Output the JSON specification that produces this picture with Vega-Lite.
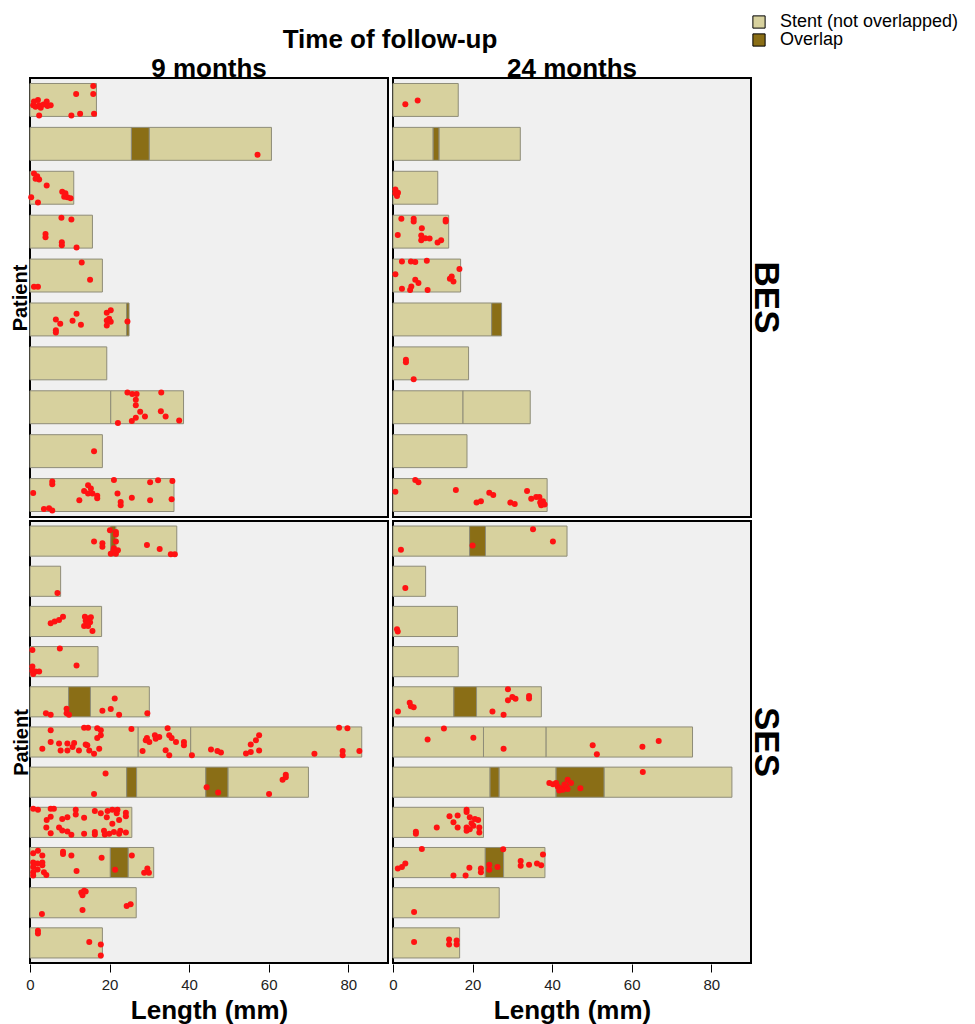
{
  "$schema": "https://vega.github.io/schema/vega-lite/v6.json",
  "background": "white",
  "padding": {"left": 10, "top": 13, "right": 5, "bottom": 2},
  "data": {"values": [
    {"g":"BES","t":"9 months","p":1,"k":"seg","s":0,"e":16.7,"part":"Stent (not overlapped)"},
    {"g":"BES","t":"9 months","p":2,"k":"seg","s":0,"e":25.5,"part":"Stent (not overlapped)"},
    {"g":"BES","t":"9 months","p":2,"k":"seg","s":25.5,"e":30.0,"part":"Overlap"},
    {"g":"BES","t":"9 months","p":2,"k":"seg","s":30.0,"e":60.7,"part":"Stent (not overlapped)"},
    {"g":"BES","t":"9 months","p":3,"k":"seg","s":0,"e":11.0,"part":"Stent (not overlapped)"},
    {"g":"BES","t":"9 months","p":4,"k":"seg","s":0,"e":15.7,"part":"Stent (not overlapped)"},
    {"g":"BES","t":"9 months","p":5,"k":"seg","s":0,"e":18.2,"part":"Stent (not overlapped)"},
    {"g":"BES","t":"9 months","p":6,"k":"seg","s":0,"e":24.3,"part":"Stent (not overlapped)"},
    {"g":"BES","t":"9 months","p":6,"k":"seg","s":24.3,"e":24.9,"part":"Overlap"},
    {"g":"BES","t":"9 months","p":7,"k":"seg","s":0,"e":19.3,"part":"Stent (not overlapped)"},
    {"g":"BES","t":"9 months","p":8,"k":"seg","s":0,"e":20.3,"part":"Stent (not overlapped)"},
    {"g":"BES","t":"9 months","p":8,"k":"seg","s":20.3,"e":38.6,"part":"Stent (not overlapped)"},
    {"g":"BES","t":"9 months","p":9,"k":"seg","s":0,"e":18.2,"part":"Stent (not overlapped)"},
    {"g":"BES","t":"9 months","p":10,"k":"seg","s":0,"e":36.2,"part":"Stent (not overlapped)"},

    {"g":"BES","t":"24 months","p":1,"k":"seg","s":0,"e":16.4,"part":"Stent (not overlapped)"},
    {"g":"BES","t":"24 months","p":2,"k":"seg","s":0,"e":10.1,"part":"Stent (not overlapped)"},
    {"g":"BES","t":"24 months","p":2,"k":"seg","s":10.1,"e":11.6,"part":"Overlap"},
    {"g":"BES","t":"24 months","p":2,"k":"seg","s":11.6,"e":32.0,"part":"Stent (not overlapped)"},
    {"g":"BES","t":"24 months","p":3,"k":"seg","s":0,"e":11.25,"part":"Stent (not overlapped)"},
    {"g":"BES","t":"24 months","p":4,"k":"seg","s":0,"e":14.0,"part":"Stent (not overlapped)"},
    {"g":"BES","t":"24 months","p":5,"k":"seg","s":0,"e":17.0,"part":"Stent (not overlapped)"},
    {"g":"BES","t":"24 months","p":6,"k":"seg","s":0,"e":24.8,"part":"Stent (not overlapped)"},
    {"g":"BES","t":"24 months","p":6,"k":"seg","s":24.8,"e":27.3,"part":"Overlap"},
    {"g":"BES","t":"24 months","p":7,"k":"seg","s":0,"e":19.0,"part":"Stent (not overlapped)"},
    {"g":"BES","t":"24 months","p":8,"k":"seg","s":0,"e":17.6,"part":"Stent (not overlapped)"},
    {"g":"BES","t":"24 months","p":8,"k":"seg","s":17.6,"e":34.5,"part":"Stent (not overlapped)"},
    {"g":"BES","t":"24 months","p":9,"k":"seg","s":0,"e":18.6,"part":"Stent (not overlapped)"},
    {"g":"BES","t":"24 months","p":10,"k":"seg","s":0,"e":38.75,"part":"Stent (not overlapped)"},

    {"g":"SES","t":"9 months","p":1,"k":"seg","s":0,"e":20.3,"part":"Stent (not overlapped)"},
    {"g":"SES","t":"9 months","p":1,"k":"seg","s":20.3,"e":21.6,"part":"Overlap"},
    {"g":"SES","t":"9 months","p":1,"k":"seg","s":21.6,"e":36.9,"part":"Stent (not overlapped)"},
    {"g":"SES","t":"9 months","p":2,"k":"seg","s":0,"e":7.7,"part":"Stent (not overlapped)"},
    {"g":"SES","t":"9 months","p":3,"k":"seg","s":0,"e":18.0,"part":"Stent (not overlapped)"},
    {"g":"SES","t":"9 months","p":4,"k":"seg","s":0,"e":17.1,"part":"Stent (not overlapped)"},
    {"g":"SES","t":"9 months","p":5,"k":"seg","s":0,"e":9.7,"part":"Stent (not overlapped)"},
    {"g":"SES","t":"9 months","p":5,"k":"seg","s":9.7,"e":15.2,"part":"Overlap"},
    {"g":"SES","t":"9 months","p":5,"k":"seg","s":15.2,"e":30.0,"part":"Stent (not overlapped)"},
    {"g":"SES","t":"9 months","p":6,"k":"seg","s":0,"e":27.2,"part":"Stent (not overlapped)"},
    {"g":"SES","t":"9 months","p":6,"k":"seg","s":27.2,"e":40.4,"part":"Stent (not overlapped)"},
    {"g":"SES","t":"9 months","p":6,"k":"seg","s":40.4,"e":83.4,"part":"Stent (not overlapped)"},
    {"g":"SES","t":"9 months","p":7,"k":"seg","s":0,"e":24.3,"part":"Stent (not overlapped)"},
    {"g":"SES","t":"9 months","p":7,"k":"seg","s":24.3,"e":26.8,"part":"Overlap"},
    {"g":"SES","t":"9 months","p":7,"k":"seg","s":26.8,"e":44.2,"part":"Stent (not overlapped)"},
    {"g":"SES","t":"9 months","p":7,"k":"seg","s":44.2,"e":49.8,"part":"Overlap"},
    {"g":"SES","t":"9 months","p":7,"k":"seg","s":49.8,"e":70.0,"part":"Stent (not overlapped)"},
    {"g":"SES","t":"9 months","p":8,"k":"seg","s":0,"e":25.6,"part":"Stent (not overlapped)"},
    {"g":"SES","t":"9 months","p":9,"k":"seg","s":0,"e":20.2,"part":"Stent (not overlapped)"},
    {"g":"SES","t":"9 months","p":9,"k":"seg","s":20.2,"e":24.7,"part":"Overlap"},
    {"g":"SES","t":"9 months","p":9,"k":"seg","s":24.7,"e":31.1,"part":"Stent (not overlapped)"},
    {"g":"SES","t":"9 months","p":10,"k":"seg","s":0,"e":26.7,"part":"Stent (not overlapped)"},
    {"g":"SES","t":"9 months","p":11,"k":"seg","s":0,"e":18.2,"part":"Stent (not overlapped)"},

    {"g":"SES","t":"24 months","p":1,"k":"seg","s":0,"e":19.25,"part":"Stent (not overlapped)"},
    {"g":"SES","t":"24 months","p":1,"k":"seg","s":19.25,"e":23.25,"part":"Overlap"},
    {"g":"SES","t":"24 months","p":1,"k":"seg","s":23.25,"e":43.75,"part":"Stent (not overlapped)"},
    {"g":"SES","t":"24 months","p":2,"k":"seg","s":0,"e":8.2,"part":"Stent (not overlapped)"},
    {"g":"SES","t":"24 months","p":3,"k":"seg","s":0,"e":16.2,"part":"Stent (not overlapped)"},
    {"g":"SES","t":"24 months","p":4,"k":"seg","s":0,"e":16.4,"part":"Stent (not overlapped)"},
    {"g":"SES","t":"24 months","p":5,"k":"seg","s":0,"e":15.3,"part":"Stent (not overlapped)"},
    {"g":"SES","t":"24 months","p":5,"k":"seg","s":15.3,"e":21.0,"part":"Overlap"},
    {"g":"SES","t":"24 months","p":5,"k":"seg","s":21.0,"e":37.3,"part":"Stent (not overlapped)"},
    {"g":"SES","t":"24 months","p":6,"k":"seg","s":0,"e":22.75,"part":"Stent (not overlapped)"},
    {"g":"SES","t":"24 months","p":6,"k":"seg","s":22.75,"e":38.5,"part":"Stent (not overlapped)"},
    {"g":"SES","t":"24 months","p":6,"k":"seg","s":38.5,"e":75.3,"part":"Stent (not overlapped)"},
    {"g":"SES","t":"24 months","p":7,"k":"seg","s":0,"e":24.4,"part":"Stent (not overlapped)"},
    {"g":"SES","t":"24 months","p":7,"k":"seg","s":24.4,"e":26.7,"part":"Overlap"},
    {"g":"SES","t":"24 months","p":7,"k":"seg","s":26.7,"e":41.0,"part":"Stent (not overlapped)"},
    {"g":"SES","t":"24 months","p":7,"k":"seg","s":41.0,"e":53.1,"part":"Overlap"},
    {"g":"SES","t":"24 months","p":7,"k":"seg","s":53.1,"e":85.2,"part":"Stent (not overlapped)"},
    {"g":"SES","t":"24 months","p":8,"k":"seg","s":0,"e":22.75,"part":"Stent (not overlapped)"},
    {"g":"SES","t":"24 months","p":9,"k":"seg","s":0,"e":23.2,"part":"Stent (not overlapped)"},
    {"g":"SES","t":"24 months","p":9,"k":"seg","s":23.2,"e":27.8,"part":"Overlap"},
    {"g":"SES","t":"24 months","p":9,"k":"seg","s":27.8,"e":38.2,"part":"Stent (not overlapped)"},
    {"g":"SES","t":"24 months","p":10,"k":"seg","s":0,"e":26.7,"part":"Stent (not overlapped)"},
    {"g":"SES","t":"24 months","p":11,"k":"seg","s":0,"e":16.75,"part":"Stent (not overlapped)"},

    {"g":"BES","t":"9 months","p":1,"k":"strut","x":15.9,"c":0.08},
    {"g":"BES","t":"9 months","p":1,"k":"strut","x":15.9,"c":0.32},
    {"g":"BES","t":"9 months","p":1,"k":"strut","x":16.1,"c":0.92},
    {"g":"BES","t":"9 months","p":1,"k":"strut","x":11.6,"c":0.32},
    {"g":"BES","t":"9 months","p":1,"k":"strut","x":12.6,"c":0.92},
    {"g":"BES","t":"9 months","p":1,"k":"strut","x":10.4,"c":0.97},
    {"g":"BES","t":"9 months","p":1,"k":"strut","x":2.3,"c":0.97},
    {"g":"BES","t":"9 months","p":1,"k":"strut","x":0.8,"c":0.66},
    {"g":"BES","t":"9 months","p":1,"k":"strut","x":1.4,"c":0.71},
    {"g":"BES","t":"9 months","p":1,"k":"strut","x":2.0,"c":0.5},
    {"g":"BES","t":"9 months","p":1,"k":"strut","x":2.3,"c":0.66},
    {"g":"BES","t":"9 months","p":1,"k":"strut","x":2.7,"c":0.74},
    {"g":"BES","t":"9 months","p":1,"k":"strut","x":3.4,"c":0.64},
    {"g":"BES","t":"9 months","p":1,"k":"strut","x":4.2,"c":0.55},
    {"g":"BES","t":"9 months","p":1,"k":"strut","x":4.4,"c":0.68},
    {"g":"BES","t":"9 months","p":1,"k":"strut","x":5.2,"c":0.66},
    {"g":"BES","t":"9 months","p":1,"k":"strut","x":1.0,"c":0.55},
    {"g":"BES","t":"9 months","p":2,"k":"strut","x":57.2,"c":0.83},
    {"g":"BES","t":"9 months","p":3,"k":"strut","x":1.0,"c":0.07},
    {"g":"BES","t":"9 months","p":3,"k":"strut","x":1.8,"c":0.15},
    {"g":"BES","t":"9 months","p":3,"k":"strut","x":2.3,"c":0.25},
    {"g":"BES","t":"9 months","p":3,"k":"strut","x":1.4,"c":0.23},
    {"g":"BES","t":"9 months","p":3,"k":"strut","x":4.2,"c":0.43},
    {"g":"BES","t":"9 months","p":3,"k":"strut","x":0.3,"c":0.79},
    {"g":"BES","t":"9 months","p":3,"k":"strut","x":2.0,"c":0.95},
    {"g":"BES","t":"9 months","p":3,"k":"strut","x":8.1,"c":0.62},
    {"g":"BES","t":"9 months","p":3,"k":"strut","x":8.6,"c":0.77},
    {"g":"BES","t":"9 months","p":3,"k":"strut","x":9.4,"c":0.79},
    {"g":"BES","t":"9 months","p":3,"k":"strut","x":10.2,"c":0.82},
    {"g":"BES","t":"9 months","p":3,"k":"strut","x":8.9,"c":0.67},
    {"g":"BES","t":"9 months","p":4,"k":"strut","x":7.9,"c":0.08},
    {"g":"BES","t":"9 months","p":4,"k":"strut","x":10.4,"c":0.13},
    {"g":"BES","t":"9 months","p":4,"k":"strut","x":3.9,"c":0.57},
    {"g":"BES","t":"9 months","p":4,"k":"strut","x":3.9,"c":0.67},
    {"g":"BES","t":"9 months","p":4,"k":"strut","x":8.0,"c":0.82},
    {"g":"BES","t":"9 months","p":4,"k":"strut","x":8.0,"c":0.91},
    {"g":"BES","t":"9 months","p":4,"k":"strut","x":11.7,"c":0.98},
    {"g":"BES","t":"9 months","p":5,"k":"strut","x":13.0,"c":0.1},
    {"g":"BES","t":"9 months","p":5,"k":"strut","x":15.1,"c":0.63},
    {"g":"BES","t":"9 months","p":5,"k":"strut","x":1.0,"c":0.84},
    {"g":"BES","t":"9 months","p":5,"k":"strut","x":2.0,"c":0.84},
    {"g":"BES","t":"9 months","p":6,"k":"strut","x":6.5,"c":0.5},
    {"g":"BES","t":"9 months","p":6,"k":"strut","x":7.6,"c":0.63},
    {"g":"BES","t":"9 months","p":6,"k":"strut","x":6.5,"c":0.83},
    {"g":"BES","t":"9 months","p":6,"k":"strut","x":6.5,"c":0.9},
    {"g":"BES","t":"9 months","p":6,"k":"strut","x":10.7,"c":0.54},
    {"g":"BES","t":"9 months","p":6,"k":"strut","x":11.7,"c":0.33},
    {"g":"BES","t":"9 months","p":6,"k":"strut","x":12.8,"c":0.66},
    {"g":"BES","t":"9 months","p":6,"k":"strut","x":19.3,"c":0.3},
    {"g":"BES","t":"9 months","p":6,"k":"strut","x":20.3,"c":0.22},
    {"g":"BES","t":"9 months","p":6,"k":"strut","x":19.3,"c":0.53},
    {"g":"BES","t":"9 months","p":6,"k":"strut","x":20.3,"c":0.57},
    {"g":"BES","t":"9 months","p":6,"k":"strut","x":19.3,"c":0.68},
    {"g":"BES","t":"9 months","p":6,"k":"strut","x":19.9,"c":0.48},
    {"g":"BES","t":"9 months","p":6,"k":"strut","x":24.5,"c":0.56},
    {"g":"BES","t":"9 months","p":8,"k":"strut","x":24.5,"c":0.05},
    {"g":"BES","t":"9 months","p":8,"k":"strut","x":25.7,"c":0.1},
    {"g":"BES","t":"9 months","p":8,"k":"strut","x":26.8,"c":0.1},
    {"g":"BES","t":"9 months","p":8,"k":"strut","x":26.6,"c":0.27},
    {"g":"BES","t":"9 months","p":8,"k":"strut","x":26.6,"c":0.44},
    {"g":"BES","t":"9 months","p":8,"k":"strut","x":27.7,"c":0.64},
    {"g":"BES","t":"9 months","p":8,"k":"strut","x":26.6,"c":0.82},
    {"g":"BES","t":"9 months","p":8,"k":"strut","x":25.6,"c":0.92},
    {"g":"BES","t":"9 months","p":8,"k":"strut","x":28.9,"c":0.78},
    {"g":"BES","t":"9 months","p":8,"k":"strut","x":22.1,"c":0.98},
    {"g":"BES","t":"9 months","p":8,"k":"strut","x":33.0,"c":0.05},
    {"g":"BES","t":"9 months","p":8,"k":"strut","x":32.9,"c":0.62},
    {"g":"BES","t":"9 months","p":8,"k":"strut","x":34.1,"c":0.78},
    {"g":"BES","t":"9 months","p":8,"k":"strut","x":37.5,"c":0.9},
    {"g":"BES","t":"9 months","p":9,"k":"strut","x":16.1,"c":0.5},
    {"g":"BES","t":"9 months","p":10,"k":"strut","x":0.8,"c":0.44},
    {"g":"BES","t":"9 months","p":10,"k":"strut","x":5.6,"c":0.09},
    {"g":"BES","t":"9 months","p":10,"k":"strut","x":5.6,"c":0.17},
    {"g":"BES","t":"9 months","p":10,"k":"strut","x":3.5,"c":0.92},
    {"g":"BES","t":"9 months","p":10,"k":"strut","x":4.8,"c":0.9},
    {"g":"BES","t":"9 months","p":10,"k":"strut","x":5.6,"c":0.97},
    {"g":"BES","t":"9 months","p":10,"k":"strut","x":12.4,"c":0.66},
    {"g":"BES","t":"9 months","p":10,"k":"strut","x":13.6,"c":0.38},
    {"g":"BES","t":"9 months","p":10,"k":"strut","x":14.6,"c":0.2},
    {"g":"BES","t":"9 months","p":10,"k":"strut","x":15.3,"c":0.3},
    {"g":"BES","t":"9 months","p":10,"k":"strut","x":14.6,"c":0.45},
    {"g":"BES","t":"9 months","p":10,"k":"strut","x":15.7,"c":0.45},
    {"g":"BES","t":"9 months","p":10,"k":"strut","x":16.9,"c":0.52},
    {"g":"BES","t":"9 months","p":10,"k":"strut","x":16.9,"c":0.6},
    {"g":"BES","t":"9 months","p":10,"k":"strut","x":21.1,"c":0.04},
    {"g":"BES","t":"9 months","p":10,"k":"strut","x":22.0,"c":0.45},
    {"g":"BES","t":"9 months","p":10,"k":"strut","x":22.8,"c":0.71},
    {"g":"BES","t":"9 months","p":10,"k":"strut","x":22.8,"c":0.81},
    {"g":"BES","t":"9 months","p":10,"k":"strut","x":25.6,"c":0.58},
    {"g":"BES","t":"9 months","p":10,"k":"strut","x":30.2,"c":0.11},
    {"g":"BES","t":"9 months","p":10,"k":"strut","x":32.2,"c":0.05},
    {"g":"BES","t":"9 months","p":10,"k":"strut","x":30.2,"c":0.66},
    {"g":"BES","t":"9 months","p":10,"k":"strut","x":35.6,"c":0.63},
    {"g":"BES","t":"9 months","p":10,"k":"strut","x":35.8,"c":0.07},

    {"g":"BES","t":"24 months","p":1,"k":"strut","x":3.1,"c":0.63},
    {"g":"BES","t":"24 months","p":1,"k":"strut","x":6.2,"c":0.52},
    {"g":"BES","t":"24 months","p":3,"k":"strut","x":0.6,"c":0.55},
    {"g":"BES","t":"24 months","p":3,"k":"strut","x":1.25,"c":0.65},
    {"g":"BES","t":"24 months","p":3,"k":"strut","x":1.0,"c":0.75},
    {"g":"BES","t":"24 months","p":3,"k":"strut","x":0.6,"c":0.67},
    {"g":"BES","t":"24 months","p":4,"k":"strut","x":2.1,"c":0.11},
    {"g":"BES","t":"24 months","p":4,"k":"strut","x":5.2,"c":0.11},
    {"g":"BES","t":"24 months","p":4,"k":"strut","x":5.2,"c":0.19},
    {"g":"BES","t":"24 months","p":4,"k":"strut","x":13.25,"c":0.14},
    {"g":"BES","t":"24 months","p":4,"k":"strut","x":13.25,"c":0.19},
    {"g":"BES","t":"24 months","p":4,"k":"strut","x":1.2,"c":0.6},
    {"g":"BES","t":"24 months","p":4,"k":"strut","x":7.25,"c":0.4},
    {"g":"BES","t":"24 months","p":4,"k":"strut","x":7.1,"c":0.62},
    {"g":"BES","t":"24 months","p":4,"k":"strut","x":7.1,"c":0.76},
    {"g":"BES","t":"24 months","p":4,"k":"strut","x":8.1,"c":0.7},
    {"g":"BES","t":"24 months","p":4,"k":"strut","x":9.2,"c":0.71},
    {"g":"BES","t":"24 months","p":4,"k":"strut","x":11.2,"c":0.83},
    {"g":"BES","t":"24 months","p":4,"k":"strut","x":12.1,"c":0.76},
    {"g":"BES","t":"24 months","p":5,"k":"strut","x":2.25,"c":0.07},
    {"g":"BES","t":"24 months","p":5,"k":"strut","x":4.5,"c":0.07},
    {"g":"BES","t":"24 months","p":5,"k":"strut","x":5.6,"c":0.09},
    {"g":"BES","t":"24 months","p":5,"k":"strut","x":8.5,"c":0.05},
    {"g":"BES","t":"24 months","p":5,"k":"strut","x":0.6,"c":0.46},
    {"g":"BES","t":"24 months","p":5,"k":"strut","x":5.6,"c":0.63},
    {"g":"BES","t":"24 months","p":5,"k":"strut","x":6.4,"c":0.73},
    {"g":"BES","t":"24 months","p":5,"k":"strut","x":4.6,"c":0.83},
    {"g":"BES","t":"24 months","p":5,"k":"strut","x":2.25,"c":0.9},
    {"g":"BES","t":"24 months","p":5,"k":"strut","x":4.3,"c":0.94},
    {"g":"BES","t":"24 months","p":5,"k":"strut","x":8.7,"c":0.94},
    {"g":"BES","t":"24 months","p":5,"k":"strut","x":16.7,"c":0.3},
    {"g":"BES","t":"24 months","p":5,"k":"strut","x":14.3,"c":0.6},
    {"g":"BES","t":"24 months","p":5,"k":"strut","x":15.2,"c":0.68},
    {"g":"BES","t":"24 months","p":5,"k":"strut","x":14.75,"c":0.53},
    {"g":"BES","t":"24 months","p":7,"k":"strut","x":3.25,"c":0.39},
    {"g":"BES","t":"24 months","p":7,"k":"strut","x":3.25,"c":0.47},
    {"g":"BES","t":"24 months","p":7,"k":"strut","x":5.2,"c":0.98},
    {"g":"BES","t":"24 months","p":10,"k":"strut","x":0.6,"c":0.4},
    {"g":"BES","t":"24 months","p":10,"k":"strut","x":5.6,"c":0.04},
    {"g":"BES","t":"24 months","p":10,"k":"strut","x":6.4,"c":0.11},
    {"g":"BES","t":"24 months","p":10,"k":"strut","x":15.8,"c":0.35},
    {"g":"BES","t":"24 months","p":10,"k":"strut","x":24.2,"c":0.43},
    {"g":"BES","t":"24 months","p":10,"k":"strut","x":25.2,"c":0.5},
    {"g":"BES","t":"24 months","p":10,"k":"strut","x":21.0,"c":0.73},
    {"g":"BES","t":"24 months","p":10,"k":"strut","x":22.1,"c":0.69},
    {"g":"BES","t":"24 months","p":10,"k":"strut","x":29.5,"c":0.73},
    {"g":"BES","t":"24 months","p":10,"k":"strut","x":30.6,"c":0.77},
    {"g":"BES","t":"24 months","p":10,"k":"strut","x":33.7,"c":0.38},
    {"g":"BES","t":"24 months","p":10,"k":"strut","x":34.75,"c":0.61},
    {"g":"BES","t":"24 months","p":10,"k":"strut","x":36.0,"c":0.56},
    {"g":"BES","t":"24 months","p":10,"k":"strut","x":36.8,"c":0.56},
    {"g":"BES","t":"24 months","p":10,"k":"strut","x":37.0,"c":0.73},
    {"g":"BES","t":"24 months","p":10,"k":"strut","x":37.7,"c":0.69},
    {"g":"BES","t":"24 months","p":10,"k":"strut","x":38.1,"c":0.79},
    {"g":"BES","t":"24 months","p":10,"k":"strut","x":37.25,"c":0.81},

    {"g":"SES","t":"9 months","p":1,"k":"strut","x":16.1,"c":0.51},
    {"g":"SES","t":"9 months","p":1,"k":"strut","x":18.2,"c":0.57},
    {"g":"SES","t":"9 months","p":1,"k":"strut","x":18.2,"c":0.69},
    {"g":"SES","t":"9 months","p":1,"k":"strut","x":20.1,"c":0.14},
    {"g":"SES","t":"9 months","p":1,"k":"strut","x":21.6,"c":0.2},
    {"g":"SES","t":"9 months","p":1,"k":"strut","x":21.6,"c":0.28},
    {"g":"SES","t":"9 months","p":1,"k":"strut","x":21.6,"c":0.51},
    {"g":"SES","t":"9 months","p":1,"k":"strut","x":21.1,"c":0.74},
    {"g":"SES","t":"9 months","p":1,"k":"strut","x":20.3,"c":0.92},
    {"g":"SES","t":"9 months","p":1,"k":"strut","x":21.6,"c":0.92},
    {"g":"SES","t":"9 months","p":1,"k":"strut","x":22.1,"c":0.8},
    {"g":"SES","t":"9 months","p":1,"k":"strut","x":21.0,"c":0.8},
    {"g":"SES","t":"9 months","p":1,"k":"strut","x":29.4,"c":0.63},
    {"g":"SES","t":"9 months","p":1,"k":"strut","x":32.6,"c":0.76},
    {"g":"SES","t":"9 months","p":1,"k":"strut","x":35.4,"c":0.94},
    {"g":"SES","t":"9 months","p":1,"k":"strut","x":36.4,"c":0.94},
    {"g":"SES","t":"9 months","p":2,"k":"strut","x":6.9,"c":0.89},
    {"g":"SES","t":"9 months","p":3,"k":"strut","x":5.2,"c":0.56},
    {"g":"SES","t":"9 months","p":3,"k":"strut","x":6.2,"c":0.5},
    {"g":"SES","t":"9 months","p":3,"k":"strut","x":7.3,"c":0.45},
    {"g":"SES","t":"9 months","p":3,"k":"strut","x":8.3,"c":0.34},
    {"g":"SES","t":"9 months","p":3,"k":"strut","x":13.8,"c":0.34},
    {"g":"SES","t":"9 months","p":3,"k":"strut","x":14.6,"c":0.4},
    {"g":"SES","t":"9 months","p":3,"k":"strut","x":15.3,"c":0.36},
    {"g":"SES","t":"9 months","p":3,"k":"strut","x":14.0,"c":0.48},
    {"g":"SES","t":"9 months","p":3,"k":"strut","x":15.1,"c":0.53},
    {"g":"SES","t":"9 months","p":3,"k":"strut","x":13.6,"c":0.65},
    {"g":"SES","t":"9 months","p":3,"k":"strut","x":14.6,"c":0.65},
    {"g":"SES","t":"9 months","p":3,"k":"strut","x":15.7,"c":0.82},
    {"g":"SES","t":"9 months","p":3,"k":"strut","x":14.3,"c":0.56},
    {"g":"SES","t":"9 months","p":4,"k":"strut","x":0.6,"c":0.11},
    {"g":"SES","t":"9 months","p":4,"k":"strut","x":7.5,"c":0.06},
    {"g":"SES","t":"9 months","p":4,"k":"strut","x":11.7,"c":0.63},
    {"g":"SES","t":"9 months","p":4,"k":"strut","x":0.6,"c":0.66},
    {"g":"SES","t":"9 months","p":4,"k":"strut","x":0.6,"c":0.8},
    {"g":"SES","t":"9 months","p":4,"k":"strut","x":1.4,"c":0.83},
    {"g":"SES","t":"9 months","p":4,"k":"strut","x":2.3,"c":0.83},
    {"g":"SES","t":"9 months","p":4,"k":"strut","x":0.8,"c":0.91},
    {"g":"SES","t":"9 months","p":5,"k":"strut","x":4.0,"c":0.88},
    {"g":"SES","t":"9 months","p":5,"k":"strut","x":5.2,"c":0.93},
    {"g":"SES","t":"9 months","p":5,"k":"strut","x":9.2,"c":0.73},
    {"g":"SES","t":"9 months","p":5,"k":"strut","x":9.2,"c":0.88},
    {"g":"SES","t":"9 months","p":5,"k":"strut","x":9.8,"c":0.93},
    {"g":"SES","t":"9 months","p":5,"k":"strut","x":21.3,"c":0.39},
    {"g":"SES","t":"9 months","p":5,"k":"strut","x":18.2,"c":0.8},
    {"g":"SES","t":"9 months","p":5,"k":"strut","x":20.3,"c":0.74},
    {"g":"SES","t":"9 months","p":5,"k":"strut","x":22.4,"c":0.93},
    {"g":"SES","t":"9 months","p":5,"k":"strut","x":29.5,"c":0.88},
    {"g":"SES","t":"9 months","p":6,"k":"strut","x":5.2,"c":0.11},
    {"g":"SES","t":"9 months","p":6,"k":"strut","x":13.6,"c":0.03},
    {"g":"SES","t":"9 months","p":6,"k":"strut","x":14.6,"c":0.03},
    {"g":"SES","t":"9 months","p":6,"k":"strut","x":16.9,"c":0.04},
    {"g":"SES","t":"9 months","p":6,"k":"strut","x":17.8,"c":0.11},
    {"g":"SES","t":"9 months","p":6,"k":"strut","x":17.8,"c":0.28},
    {"g":"SES","t":"9 months","p":6,"k":"strut","x":16.9,"c":0.37},
    {"g":"SES","t":"9 months","p":6,"k":"strut","x":25.5,"c":0.07},
    {"g":"SES","t":"9 months","p":6,"k":"strut","x":5.2,"c":0.5},
    {"g":"SES","t":"9 months","p":6,"k":"strut","x":7.3,"c":0.55},
    {"g":"SES","t":"9 months","p":6,"k":"strut","x":9.4,"c":0.55},
    {"g":"SES","t":"9 months","p":6,"k":"strut","x":11.1,"c":0.53},
    {"g":"SES","t":"9 months","p":6,"k":"strut","x":14.0,"c":0.58},
    {"g":"SES","t":"9 months","p":6,"k":"strut","x":29.4,"c":0.37},
    {"g":"SES","t":"9 months","p":6,"k":"strut","x":30.0,"c":0.5},
    {"g":"SES","t":"9 months","p":6,"k":"strut","x":31.4,"c":0.28},
    {"g":"SES","t":"9 months","p":6,"k":"strut","x":32.5,"c":0.33},
    {"g":"SES","t":"9 months","p":6,"k":"strut","x":34.6,"c":0.04},
    {"g":"SES","t":"9 months","p":6,"k":"strut","x":35.0,"c":0.28},
    {"g":"SES","t":"9 months","p":6,"k":"strut","x":35.6,"c":0.37},
    {"g":"SES","t":"9 months","p":6,"k":"strut","x":36.7,"c":0.5},
    {"g":"SES","t":"9 months","p":6,"k":"strut","x":38.7,"c":0.5},
    {"g":"SES","t":"9 months","p":6,"k":"strut","x":38.7,"c":0.61},
    {"g":"SES","t":"9 months","p":6,"k":"strut","x":57.6,"c":0.28},
    {"g":"SES","t":"9 months","p":6,"k":"strut","x":56.8,"c":0.44},
    {"g":"SES","t":"9 months","p":6,"k":"strut","x":55.5,"c":0.58},
    {"g":"SES","t":"9 months","p":6,"k":"strut","x":77.7,"c":0.03},
    {"g":"SES","t":"9 months","p":6,"k":"strut","x":79.8,"c":0.04},
    {"g":"SES","t":"9 months","p":6,"k":"strut","x":3.1,"c":0.72},
    {"g":"SES","t":"9 months","p":6,"k":"strut","x":7.7,"c":0.78},
    {"g":"SES","t":"9 months","p":6,"k":"strut","x":9.4,"c":0.78},
    {"g":"SES","t":"9 months","p":6,"k":"strut","x":10.7,"c":0.67},
    {"g":"SES","t":"9 months","p":6,"k":"strut","x":12.3,"c":0.78},
    {"g":"SES","t":"9 months","p":6,"k":"strut","x":14.4,"c":0.61},
    {"g":"SES","t":"9 months","p":6,"k":"strut","x":14.9,"c":0.78},
    {"g":"SES","t":"9 months","p":6,"k":"strut","x":16.1,"c":0.89},
    {"g":"SES","t":"9 months","p":6,"k":"strut","x":17.4,"c":0.72},
    {"g":"SES","t":"9 months","p":6,"k":"strut","x":29.1,"c":0.44},
    {"g":"SES","t":"9 months","p":6,"k":"strut","x":31.6,"c":0.39},
    {"g":"SES","t":"9 months","p":6,"k":"strut","x":28.3,"c":0.8},
    {"g":"SES","t":"9 months","p":6,"k":"strut","x":34.1,"c":0.77},
    {"g":"SES","t":"9 months","p":6,"k":"strut","x":35.0,"c":0.94},
    {"g":"SES","t":"9 months","p":6,"k":"strut","x":40.7,"c":0.94},
    {"g":"SES","t":"9 months","p":6,"k":"strut","x":45.5,"c":0.75},
    {"g":"SES","t":"9 months","p":6,"k":"strut","x":47.1,"c":0.8},
    {"g":"SES","t":"9 months","p":6,"k":"strut","x":48.0,"c":0.85},
    {"g":"SES","t":"9 months","p":6,"k":"strut","x":54.3,"c":0.88},
    {"g":"SES","t":"9 months","p":6,"k":"strut","x":55.5,"c":0.83},
    {"g":"SES","t":"9 months","p":6,"k":"strut","x":57.6,"c":0.78},
    {"g":"SES","t":"9 months","p":6,"k":"strut","x":71.5,"c":0.89},
    {"g":"SES","t":"9 months","p":6,"k":"strut","x":78.6,"c":0.8},
    {"g":"SES","t":"9 months","p":6,"k":"strut","x":78.6,"c":0.94},
    {"g":"SES","t":"9 months","p":6,"k":"strut","x":82.8,"c":0.8},
    {"g":"SES","t":"9 months","p":7,"k":"strut","x":19.0,"c":0.21},
    {"g":"SES","t":"9 months","p":7,"k":"strut","x":16.1,"c":0.89},
    {"g":"SES","t":"9 months","p":7,"k":"strut","x":44.4,"c":0.67},
    {"g":"SES","t":"9 months","p":7,"k":"strut","x":47.3,"c":0.84},
    {"g":"SES","t":"9 months","p":7,"k":"strut","x":60.1,"c":0.89},
    {"g":"SES","t":"9 months","p":7,"k":"strut","x":63.5,"c":0.42},
    {"g":"SES","t":"9 months","p":7,"k":"strut","x":64.3,"c":0.25},
    {"g":"SES","t":"9 months","p":7,"k":"strut","x":64.3,"c":0.34},
    {"g":"SES","t":"9 months","p":8,"k":"strut","x":0.8,"c":0.05},
    {"g":"SES","t":"9 months","p":8,"k":"strut","x":2.0,"c":0.08},
    {"g":"SES","t":"9 months","p":8,"k":"strut","x":5.2,"c":0.05},
    {"g":"SES","t":"9 months","p":8,"k":"strut","x":6.0,"c":0.05},
    {"g":"SES","t":"9 months","p":8,"k":"strut","x":11.5,"c":0.08},
    {"g":"SES","t":"9 months","p":8,"k":"strut","x":11.5,"c":0.24},
    {"g":"SES","t":"9 months","p":8,"k":"strut","x":16.3,"c":0.12},
    {"g":"SES","t":"9 months","p":8,"k":"strut","x":17.8,"c":0.2},
    {"g":"SES","t":"9 months","p":8,"k":"strut","x":19.5,"c":0.12},
    {"g":"SES","t":"9 months","p":8,"k":"strut","x":20.7,"c":0.08},
    {"g":"SES","t":"9 months","p":8,"k":"strut","x":22.0,"c":0.08},
    {"g":"SES","t":"9 months","p":8,"k":"strut","x":21.8,"c":0.2},
    {"g":"SES","t":"9 months","p":8,"k":"strut","x":24.1,"c":0.18},
    {"g":"SES","t":"9 months","p":8,"k":"strut","x":24.1,"c":0.3},
    {"g":"SES","t":"9 months","p":8,"k":"strut","x":5.2,"c":0.31},
    {"g":"SES","t":"9 months","p":8,"k":"strut","x":4.2,"c":0.42},
    {"g":"SES","t":"9 months","p":8,"k":"strut","x":8.1,"c":0.39},
    {"g":"SES","t":"9 months","p":8,"k":"strut","x":9.4,"c":0.33},
    {"g":"SES","t":"9 months","p":8,"k":"strut","x":13.6,"c":0.35},
    {"g":"SES","t":"9 months","p":8,"k":"strut","x":19.3,"c":0.33},
    {"g":"SES","t":"9 months","p":8,"k":"strut","x":22.4,"c":0.42},
    {"g":"SES","t":"9 months","p":8,"k":"strut","x":20.7,"c":0.55},
    {"g":"SES","t":"9 months","p":8,"k":"strut","x":4.1,"c":0.67},
    {"g":"SES","t":"9 months","p":8,"k":"strut","x":5.2,"c":0.86},
    {"g":"SES","t":"9 months","p":8,"k":"strut","x":7.3,"c":0.67},
    {"g":"SES","t":"9 months","p":8,"k":"strut","x":8.1,"c":0.77},
    {"g":"SES","t":"9 months","p":8,"k":"strut","x":9.4,"c":0.8},
    {"g":"SES","t":"9 months","p":8,"k":"strut","x":10.4,"c":0.91},
    {"g":"SES","t":"9 months","p":8,"k":"strut","x":13.6,"c":0.88},
    {"g":"SES","t":"9 months","p":8,"k":"strut","x":16.3,"c":0.82},
    {"g":"SES","t":"9 months","p":8,"k":"strut","x":16.3,"c":0.9},
    {"g":"SES","t":"9 months","p":8,"k":"strut","x":18.6,"c":0.78},
    {"g":"SES","t":"9 months","p":8,"k":"strut","x":18.8,"c":0.9},
    {"g":"SES","t":"9 months","p":8,"k":"strut","x":19.9,"c":0.88},
    {"g":"SES","t":"9 months","p":8,"k":"strut","x":21.1,"c":0.82},
    {"g":"SES","t":"9 months","p":8,"k":"strut","x":22.4,"c":0.88},
    {"g":"SES","t":"9 months","p":8,"k":"strut","x":22.7,"c":0.78},
    {"g":"SES","t":"9 months","p":8,"k":"strut","x":24.1,"c":0.84},
    {"g":"SES","t":"9 months","p":9,"k":"strut","x":0.8,"c":0.19},
    {"g":"SES","t":"9 months","p":9,"k":"strut","x":2.0,"c":0.11},
    {"g":"SES","t":"9 months","p":9,"k":"strut","x":3.1,"c":0.27},
    {"g":"SES","t":"9 months","p":9,"k":"strut","x":0.8,"c":0.5},
    {"g":"SES","t":"9 months","p":9,"k":"strut","x":1.9,"c":0.53},
    {"g":"SES","t":"9 months","p":9,"k":"strut","x":3.1,"c":0.5},
    {"g":"SES","t":"9 months","p":9,"k":"strut","x":0.8,"c":0.65},
    {"g":"SES","t":"9 months","p":9,"k":"strut","x":0.8,"c":0.82},
    {"g":"SES","t":"9 months","p":9,"k":"strut","x":0.8,"c":0.93},
    {"g":"SES","t":"9 months","p":9,"k":"strut","x":1.9,"c":0.73},
    {"g":"SES","t":"9 months","p":9,"k":"strut","x":3.1,"c":0.59},
    {"g":"SES","t":"9 months","p":9,"k":"strut","x":3.5,"c":0.82},
    {"g":"SES","t":"9 months","p":9,"k":"strut","x":4.1,"c":0.91},
    {"g":"SES","t":"9 months","p":9,"k":"strut","x":8.3,"c":0.14},
    {"g":"SES","t":"9 months","p":9,"k":"strut","x":8.3,"c":0.22},
    {"g":"SES","t":"9 months","p":9,"k":"strut","x":10.4,"c":0.27},
    {"g":"SES","t":"9 months","p":9,"k":"strut","x":11.7,"c":0.78},
    {"g":"SES","t":"9 months","p":9,"k":"strut","x":18.0,"c":0.34},
    {"g":"SES","t":"9 months","p":9,"k":"strut","x":21.4,"c":0.74},
    {"g":"SES","t":"9 months","p":9,"k":"strut","x":25.6,"c":0.27},
    {"g":"SES","t":"9 months","p":9,"k":"strut","x":28.7,"c":0.84},
    {"g":"SES","t":"9 months","p":9,"k":"strut","x":29.5,"c":0.7},
    {"g":"SES","t":"9 months","p":9,"k":"strut","x":29.9,"c":0.84},
    {"g":"SES","t":"9 months","p":10,"k":"strut","x":12.9,"c":0.16},
    {"g":"SES","t":"9 months","p":10,"k":"strut","x":13.6,"c":0.1},
    {"g":"SES","t":"9 months","p":10,"k":"strut","x":13.2,"c":0.25},
    {"g":"SES","t":"9 months","p":10,"k":"strut","x":14.0,"c":0.13},
    {"g":"SES","t":"9 months","p":10,"k":"strut","x":13.2,"c":0.74},
    {"g":"SES","t":"9 months","p":10,"k":"strut","x":24.3,"c":0.61},
    {"g":"SES","t":"9 months","p":10,"k":"strut","x":25.3,"c":0.55},
    {"g":"SES","t":"9 months","p":10,"k":"strut","x":3.0,"c":0.87},
    {"g":"SES","t":"9 months","p":11,"k":"strut","x":2.0,"c":0.1},
    {"g":"SES","t":"9 months","p":11,"k":"strut","x":2.0,"c":0.19},
    {"g":"SES","t":"9 months","p":11,"k":"strut","x":14.9,"c":0.47},
    {"g":"SES","t":"9 months","p":11,"k":"strut","x":17.8,"c":0.55},
    {"g":"SES","t":"9 months","p":11,"k":"strut","x":17.8,"c":0.92},

    {"g":"SES","t":"24 months","p":1,"k":"strut","x":2.0,"c":0.79},
    {"g":"SES","t":"24 months","p":1,"k":"strut","x":20.0,"c":0.65},
    {"g":"SES","t":"24 months","p":1,"k":"strut","x":35.2,"c":0.11},
    {"g":"SES","t":"24 months","p":1,"k":"strut","x":40.2,"c":0.51},
    {"g":"SES","t":"24 months","p":2,"k":"strut","x":3.1,"c":0.72},
    {"g":"SES","t":"24 months","p":3,"k":"strut","x":1.0,"c":0.76},
    {"g":"SES","t":"24 months","p":3,"k":"strut","x":1.2,"c":0.83},
    {"g":"SES","t":"24 months","p":5,"k":"strut","x":1.25,"c":0.82},
    {"g":"SES","t":"24 months","p":5,"k":"strut","x":4.2,"c":0.53},
    {"g":"SES","t":"24 months","p":5,"k":"strut","x":5.2,"c":0.68},
    {"g":"SES","t":"24 months","p":5,"k":"strut","x":4.5,"c":0.65},
    {"g":"SES","t":"24 months","p":5,"k":"strut","x":25.0,"c":0.82},
    {"g":"SES","t":"24 months","p":5,"k":"strut","x":27.8,"c":0.93},
    {"g":"SES","t":"24 months","p":5,"k":"strut","x":28.9,"c":0.08},
    {"g":"SES","t":"24 months","p":5,"k":"strut","x":30.0,"c":0.34},
    {"g":"SES","t":"24 months","p":5,"k":"strut","x":30.8,"c":0.4},
    {"g":"SES","t":"24 months","p":5,"k":"strut","x":28.9,"c":0.45},
    {"g":"SES","t":"24 months","p":5,"k":"strut","x":34.2,"c":0.31},
    {"g":"SES","t":"24 months","p":5,"k":"strut","x":34.2,"c":0.39},
    {"g":"SES","t":"24 months","p":6,"k":"strut","x":12.8,"c":0.05},
    {"g":"SES","t":"24 months","p":6,"k":"strut","x":8.7,"c":0.42},
    {"g":"SES","t":"24 months","p":6,"k":"strut","x":20.2,"c":0.36},
    {"g":"SES","t":"24 months","p":6,"k":"strut","x":27.8,"c":0.72},
    {"g":"SES","t":"24 months","p":6,"k":"strut","x":50.2,"c":0.61},
    {"g":"SES","t":"24 months","p":6,"k":"strut","x":51.25,"c":0.91},
    {"g":"SES","t":"24 months","p":6,"k":"strut","x":62.7,"c":0.66},
    {"g":"SES","t":"24 months","p":6,"k":"strut","x":66.8,"c":0.47},
    {"g":"SES","t":"24 months","p":7,"k":"strut","x":62.8,"c":0.16},
    {"g":"SES","t":"24 months","p":7,"k":"strut","x":39.3,"c":0.53},
    {"g":"SES","t":"24 months","p":7,"k":"strut","x":40.2,"c":0.57},
    {"g":"SES","t":"24 months","p":7,"k":"strut","x":41.0,"c":0.53},
    {"g":"SES","t":"24 months","p":7,"k":"strut","x":41.4,"c":0.64},
    {"g":"SES","t":"24 months","p":7,"k":"strut","x":42.0,"c":0.7},
    {"g":"SES","t":"24 months","p":7,"k":"strut","x":42.7,"c":0.75},
    {"g":"SES","t":"24 months","p":7,"k":"strut","x":43.5,"c":0.64},
    {"g":"SES","t":"24 months","p":7,"k":"strut","x":43.9,"c":0.42},
    {"g":"SES","t":"24 months","p":7,"k":"strut","x":43.9,"c":0.73},
    {"g":"SES","t":"24 months","p":7,"k":"strut","x":44.75,"c":0.53},
    {"g":"SES","t":"24 months","p":7,"k":"strut","x":43.1,"c":0.58},
    {"g":"SES","t":"24 months","p":7,"k":"strut","x":41.8,"c":0.78},
    {"g":"SES","t":"24 months","p":7,"k":"strut","x":47.1,"c":0.7},
    {"g":"SES","t":"24 months","p":8,"k":"strut","x":18.5,"c":0.08},
    {"g":"SES","t":"24 months","p":8,"k":"strut","x":18.5,"c":0.16},
    {"g":"SES","t":"24 months","p":8,"k":"strut","x":14.2,"c":0.3},
    {"g":"SES","t":"24 months","p":8,"k":"strut","x":16.25,"c":0.27},
    {"g":"SES","t":"24 months","p":8,"k":"strut","x":15.2,"c":0.5},
    {"g":"SES","t":"24 months","p":8,"k":"strut","x":16.25,"c":0.67},
    {"g":"SES","t":"24 months","p":8,"k":"strut","x":11.0,"c":0.67},
    {"g":"SES","t":"24 months","p":8,"k":"strut","x":5.75,"c":0.81},
    {"g":"SES","t":"24 months","p":8,"k":"strut","x":5.75,"c":0.88},
    {"g":"SES","t":"24 months","p":8,"k":"strut","x":19.3,"c":0.33},
    {"g":"SES","t":"24 months","p":8,"k":"strut","x":20.6,"c":0.39},
    {"g":"SES","t":"24 months","p":8,"k":"strut","x":21.4,"c":0.42},
    {"g":"SES","t":"24 months","p":8,"k":"strut","x":18.5,"c":0.67},
    {"g":"SES","t":"24 months","p":8,"k":"strut","x":18.5,"c":0.78},
    {"g":"SES","t":"24 months","p":8,"k":"strut","x":19.3,"c":0.73},
    {"g":"SES","t":"24 months","p":8,"k":"strut","x":20.2,"c":0.61},
    {"g":"SES","t":"24 months","p":8,"k":"strut","x":21.7,"c":0.67},
    {"g":"SES","t":"24 months","p":8,"k":"strut","x":21.7,"c":0.84},
    {"g":"SES","t":"24 months","p":8,"k":"strut","x":19.75,"c":0.53},
    {"g":"SES","t":"24 months","p":9,"k":"strut","x":7.25,"c":0.05},
    {"g":"SES","t":"24 months","p":9,"k":"strut","x":27.7,"c":0.06},
    {"g":"SES","t":"24 months","p":9,"k":"strut","x":37.7,"c":0.23},
    {"g":"SES","t":"24 months","p":9,"k":"strut","x":1.2,"c":0.7},
    {"g":"SES","t":"24 months","p":9,"k":"strut","x":2.25,"c":0.65},
    {"g":"SES","t":"24 months","p":9,"k":"strut","x":3.1,"c":0.53},
    {"g":"SES","t":"24 months","p":9,"k":"strut","x":15.2,"c":0.93},
    {"g":"SES","t":"24 months","p":9,"k":"strut","x":18.25,"c":0.93},
    {"g":"SES","t":"24 months","p":9,"k":"strut","x":19.2,"c":0.67},
    {"g":"SES","t":"24 months","p":9,"k":"strut","x":22.1,"c":0.7},
    {"g":"SES","t":"24 months","p":9,"k":"strut","x":22.1,"c":0.82},
    {"g":"SES","t":"24 months","p":9,"k":"strut","x":24.2,"c":0.57},
    {"g":"SES","t":"24 months","p":9,"k":"strut","x":24.2,"c":0.74},
    {"g":"SES","t":"24 months","p":9,"k":"strut","x":26.25,"c":0.65},
    {"g":"SES","t":"24 months","p":9,"k":"strut","x":32.1,"c":0.45},
    {"g":"SES","t":"24 months","p":9,"k":"strut","x":32.1,"c":0.61},
    {"g":"SES","t":"24 months","p":9,"k":"strut","x":34.2,"c":0.57},
    {"g":"SES","t":"24 months","p":9,"k":"strut","x":36.2,"c":0.53},
    {"g":"SES","t":"24 months","p":9,"k":"strut","x":37.25,"c":0.59},
    {"g":"SES","t":"24 months","p":10,"k":"strut","x":5.3,"c":0.81},
    {"g":"SES","t":"24 months","p":11,"k":"strut","x":5.3,"c":0.47},
    {"g":"SES","t":"24 months","p":11,"k":"strut","x":14.1,"c":0.39},
    {"g":"SES","t":"24 months","p":11,"k":"strut","x":14.1,"c":0.55},
    {"g":"SES","t":"24 months","p":11,"k":"strut","x":16.0,"c":0.42},
    {"g":"SES","t":"24 months","p":11,"k":"strut","x":16.0,"c":0.55}
  ]},
  "vconcat": [
    {
      "transform": [{"filter": "datum.g === 'BES'"}],
      "facet": {
        "row": {"field": "g", "type": "nominal", "header": {"title": null, "labelOrient": "right", "labelAngle": 90, "labelFontSize": 35, "labelFontWeight": "bold", "labelColor": "black", "labelPadding": -4}},
        "column": {"field": "t", "type": "nominal", "sort": ["9 months", "24 months"], "title": "Time of follow-up",
                   "header": {"titleFontSize": 26, "titleFontWeight": "bold", "titleColor": "black", "titlePadding": -7, "labelFontSize": 26, "labelFontWeight": "bold", "labelColor": "black", "labelPadding": -5}}
      },
      "spacing": 2,
      "spec": {
        "width": 358,
        "height": 439,
        "resolve": {"scale": {"yOffset": "independent"}},
        "layer": [
          {
            "transform": [{"filter": "datum.k === 'seg'"}],
            "mark": {"type": "bar", "stroke": "#8e8c78", "strokeWidth": 1},
            "encoding": {
              "y": {"field": "p", "type": "ordinal", "scale": {"paddingInner": 0.25, "paddingOuter": 0.125},
                    "axis": {"title": "Patient", "labels": false, "ticks": false, "domain": false, "titleFontSize": 20, "titleFontWeight": "bold", "titleColor": "black", "titlePadding": -3}},
              "x": {"field": "s", "type": "quantitative", "scale": {"domain": [0, 90], "nice": false}, "axis": null},
              "x2": {"field": "e"},
              "color": {"field": "part", "type": "nominal",
                        "scale": {"domain": ["Stent (not overlapped)", "Overlap"], "range": ["#d7d19e", "#8a6e16"]},
                        "legend": {"title": null}}
            }
          },
          {
            "transform": [{"filter": "datum.k === 'strut'"}],
            "mark": {"type": "circle", "size": 36, "color": "#ff1212", "opacity": 1},
            "encoding": {
              "y": {"field": "p", "type": "ordinal"},
              "yOffset": {"field": "c", "type": "quantitative", "scale": {"domain": [0, 1]}},
              "x": {"field": "x", "type": "quantitative"}
            }
          }
        ]
      }
    },
    {
      "transform": [{"filter": "datum.g === 'SES'"}],
      "facet": {
        "row": {"field": "g", "type": "nominal", "header": {"title": null, "labelOrient": "right", "labelAngle": 90, "labelFontSize": 35, "labelFontWeight": "bold", "labelColor": "black", "labelPadding": -4}},
        "column": {"field": "t", "type": "nominal", "sort": ["9 months", "24 months"], "title": null, "header": {"labels": false, "title": null}}
      },
      "spacing": 2,
      "spec": {
        "width": 358,
        "height": 442,
        "resolve": {"scale": {"yOffset": "independent"}},
        "layer": [
          {
            "transform": [{"filter": "datum.k === 'seg'"}],
            "mark": {"type": "bar", "stroke": "#8e8c78", "strokeWidth": 1},
            "encoding": {
              "y": {"field": "p", "type": "ordinal", "scale": {"paddingInner": 0.25, "paddingOuter": 0.125},
                    "axis": {"title": "Patient", "labels": false, "ticks": false, "domain": false, "titleFontSize": 20, "titleFontWeight": "bold", "titleColor": "black", "titlePadding": -3}},
              "x": {"field": "s", "type": "quantitative", "scale": {"domain": [0, 90], "nice": false},
                    "axis": {"title": "Length (mm)", "values": [0, 20, 40, 60, 80], "grid": false, "domain": false, "labelFlush": false, "tickColor": "black", "tickSize": 8, "labelPadding": 5, "labelFontSize": 15, "labelColor": "#222", "titleFontSize": 26, "titleFontWeight": "bold", "titleColor": "black", "titlePadding": 5}},
              "x2": {"field": "e"},
              "color": {"field": "part", "type": "nominal",
                        "scale": {"domain": ["Stent (not overlapped)", "Overlap"], "range": ["#d7d19e", "#8a6e16"]},
                        "legend": {"title": null}}
            }
          },
          {
            "transform": [{"filter": "datum.k === 'strut'"}],
            "mark": {"type": "circle", "size": 36, "color": "#ff1212", "opacity": 1},
            "encoding": {
              "y": {"field": "p", "type": "ordinal"},
              "yOffset": {"field": "c", "type": "quantitative", "scale": {"domain": [0, 1]}},
              "x": {"field": "x", "type": "quantitative"}
            }
          }
        ]
      }
    }
  ],
  "spacing": 2,
  "resolve": {"scale": {"y": "independent", "yOffset": "independent", "x": "shared", "color": "shared"}},
  "config": {
    "font": "Liberation Sans",
    "view": {"fill": "#f0f0f0", "stroke": "black", "strokeWidth": 2},
    "legend": {"orient": "none", "legendX": 720, "legendY": -65, "symbolType": "square", "symbolSize": 150, "symbolStrokeColor": "black", "symbolStrokeWidth": 1, "symbolOpacity": 1, "labelFontSize": 18, "labelColor": "black", "labelLimit": 400, "rowPadding": 0, "labelOffset": 12}
  }
}
